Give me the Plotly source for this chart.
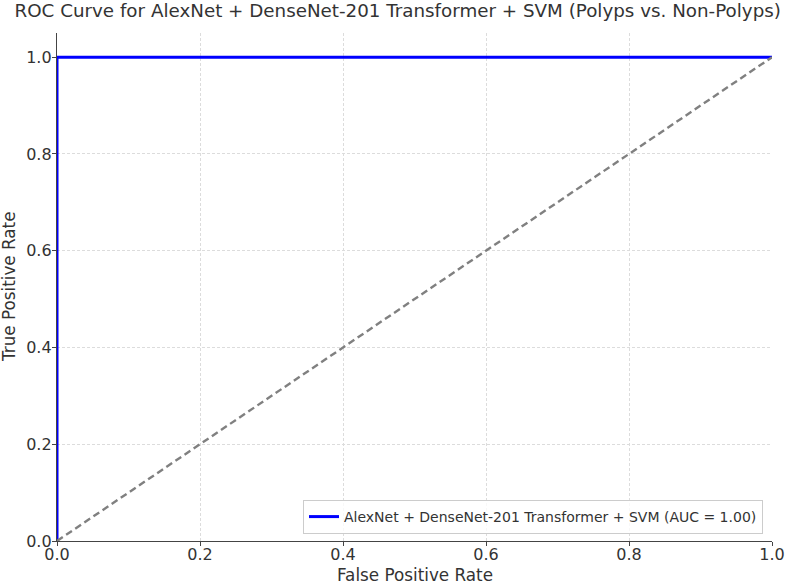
import plotly.graph_objects as go

# ROC points
fpr = [0.0, 0.0, 1.0]
tpr = [0.0, 1.0, 1.0]
chance_x = [0.0, 1.0]
chance_y = [0.0, 1.0]
roc_label = "AlexNet + DenseNet-201 Transformer + SVM (AUC = 1.00)"
tick_vals = [0.0, 0.2, 0.4, 0.6, 0.8, 1.0]

FONT = "DejaVu Sans"
TXT = "#333333"

fig = go.Figure()
fig.add_trace(go.Scatter(
    x=fpr, y=tpr, mode="lines", name=roc_label,
    line=dict(color="#0000ff", width=3),
))
fig.add_trace(go.Scatter(
    x=chance_x, y=chance_y, mode="lines", showlegend=False,
    line=dict(color="#808080", width=2.4, dash="7px,4px"),
))

axis_common = dict(
    showgrid=True, gridcolor="#dcdcdc", griddash="3px,2px", gridwidth=1,
    zeroline=False, showline=True, linecolor="#444444", linewidth=1.3,
    ticks="outside", ticklen=4, tickcolor="#444444",
    tickvals=tick_vals, tickformat=".1f", automargin=False,
    tickfont=dict(family=FONT, size=16, color=TXT),
)

fig.update_layout(
    width=786, height=584,
    paper_bgcolor="white", plot_bgcolor="white",
    margin=dict(l=57, r=14, t=33, b=43),
    title=dict(
        text="ROC Curve for AlexNet + DenseNet-201 Transformer + SVM (Polyps vs. Non-Polyps)",
        x=0.506, xanchor="center", y=1 - 11 / 584, yanchor="middle",
        font=dict(family=FONT, size=18.3, color=TXT),
    ),
    xaxis=dict(range=[0, 1], ticklabelstandoff=-5, **axis_common),
    yaxis=dict(range=[0, 1.05], ticklabelstandoff=-3, **axis_common),
    legend=dict(
        x=0.9874, xanchor="right", y=0.0138, yanchor="bottom",
        bgcolor="rgba(255,255,255,0.8)", bordercolor="#cccccc", borderwidth=1,
        itemwidth=30,
        font=dict(family=FONT, size=14, color=TXT),
    ),
    showlegend=True,
    annotations=[
        dict(text="False Positive Rate", xref="paper", yref="paper",
             x=0.5, y=-0.067, xanchor="center", yanchor="middle",
             showarrow=False, font=dict(family=FONT, size=16.8, color=TXT)),
        dict(text="True Positive Rate", xref="paper", yref="paper",
             x=-0.0671, y=0.5, xanchor="center", yanchor="middle", textangle=-90,
             showarrow=False, font=dict(family=FONT, size=16.8, color=TXT)),
    ],
)

# the page body has an 8px default margin; drop it so the figure sits at 0,0
fig.write_html("out.html", config={"displayModeBar": False},
               post_script="document.body.style.margin='0';")
